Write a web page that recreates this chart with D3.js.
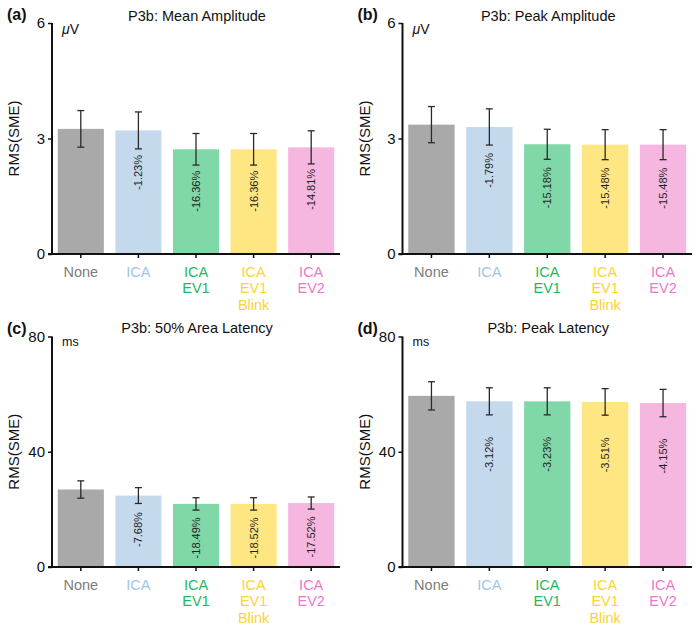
<!DOCTYPE html>
<html>
<head>
<meta charset="utf-8">
<script src="https://cdn.jsdelivr.net/npm/d3@7"></script>
<style>
  html, body { margin: 0; padding: 0; background: #fff; }
  svg { display: block; font-family: "Liberation Sans", Arial, Helvetica, sans-serif; }
</style>
</head>
<body>
<svg id="chart" width="700" height="631"></svg>
<script>
// ---------------- data ----------------
const categories = ["None", "ICA", "ICA EV1", "ICA EV1 Blink", "ICA EV2"];
const categoryLines = [["None"], ["ICA"], ["ICA", "EV1"], ["ICA", "EV1", "Blink"], ["ICA", "EV2"]];

const meanAmpValues = [3.25, 3.21, 2.72, 2.72, 2.77];
const meanAmpErrors = [0.475, 0.48, 0.41, 0.41, 0.43];
const meanAmpPct = ["", "-1.23%", "-16.36%", "-16.36%", "-14.81%"];

const peakAmpValues = [3.36, 3.30, 2.85, 2.84, 2.84];
const peakAmpErrors = [0.47, 0.47, 0.39, 0.39, 0.39];
const peakAmpPct = ["", "-1.79%", "-15.18%", "-15.48%", "-15.48%"];

const areaLatValues = [26.9, 24.8, 21.9, 21.9, 22.2];
const areaLatErrors = [3.0, 2.75, 2.15, 2.15, 2.1];
const areaLatPct = ["", "-7.68%", "-18.49%", "-18.52%", "-17.52%"];

const peakLatValues = [59.4, 57.5, 57.5, 57.3, 56.9];
const peakLatErrors = [4.9, 4.7, 4.7, 4.6, 4.75];
const peakLatPct = ["", "-3.12%", "-3.23%", "-3.51%", "-4.15%"];

const amplitudeTicks = [0, 3, 6];
const latencyTicks = [0, 40, 80];

const panelLetters = ["(a)", "(b)", "(c)", "(d)"];
const panelTitles = ["P3b: Mean Amplitude", "P3b: Peak Amplitude", "P3b: 50% Area Latency", "P3b: Peak Latency"];
const panelUnits = ["μV", "μV", "ms", "ms"];
const yAxisTitle = "RMS(SME)";

// ---------------- styles ----------------
const barColors = ["#a9a9a9", "#c4d9ec", "#80d8a8", "#fee782", "#f5b6df"];
const labelColors = ["#7d7d7d", "#a2c4e6", "#22b95e", "#fcd430", "#ef78cc"];

// ---------------- layout ----------------
const panels = [
  { values: meanAmpValues, errors: meanAmpErrors, pct: meanAmpPct, ticks: amplitudeTicks,
    x0: 52, x1: 340, yTop: 23, yBot: 254, pctOffset: 42, titleDy: -2, unitSize: 14 },
  { values: peakAmpValues, errors: peakAmpErrors, pct: peakAmpPct, ticks: amplitudeTicks,
    x0: 402.5, x1: 692, yTop: 23, yBot: 254, pctOffset: 43.5, titleDy: -2, unitSize: 14 },
  { values: areaLatValues, errors: areaLatErrors, pct: areaLatPct, ticks: latencyTicks,
    x0: 52, x1: 340, yTop: 336.5, yBot: 567, pctOffset: 34, titleDy: -4, unitSize: 12.5 },
  { values: peakLatValues, errors: peakLatErrors, pct: peakLatPct, ticks: latencyTicks,
    x0: 402.5, x1: 692, yTop: 336.5, yBot: 567, pctOffset: 53, titleDy: -4, unitSize: 12.5 }
];

const svg = d3.select("#chart");

panels.forEach((p, pi) => {
  const g = svg.append("g");
  const x = d3.scaleBand().domain(categories).range([p.x0, p.x1]).paddingInner(0.2).paddingOuter(0.1);
  const ymax = d3.max(p.ticks);
  const y = d3.scaleLinear().domain([0, ymax]).range([p.yBot, p.yTop]);

  // bars
  g.selectAll("rect.bar").data(categories).enter().append("rect")
    .attr("x", d => x(d))
    .attr("width", x.bandwidth())
    .attr("y", (d, i) => y(p.values[i]))
    .attr("height", (d, i) => y(0) - y(p.values[i]))
    .attr("fill", (d, i) => barColors[i]);

  // error bars
  const cap = 3.5;
  const eb = g.selectAll("g.err").data(categories).enter().append("g")
    .attr("stroke", "#2a2a2a").attr("stroke-width", 1.3).attr("fill", "none");
  eb.append("line")
    .attr("x1", d => x(d) + x.bandwidth() / 2).attr("x2", d => x(d) + x.bandwidth() / 2)
    .attr("y1", (d, i) => y(p.values[i] + p.errors[i])).attr("y2", (d, i) => y(p.values[i] - p.errors[i]));
  eb.append("line")
    .attr("x1", d => x(d) + x.bandwidth() / 2 - cap).attr("x2", d => x(d) + x.bandwidth() / 2 + cap)
    .attr("y1", (d, i) => y(p.values[i] + p.errors[i])).attr("y2", (d, i) => y(p.values[i] + p.errors[i]));
  eb.append("line")
    .attr("x1", d => x(d) + x.bandwidth() / 2 - cap).attr("x2", d => x(d) + x.bandwidth() / 2 + cap)
    .attr("y1", (d, i) => y(p.values[i] - p.errors[i])).attr("y2", (d, i) => y(p.values[i] - p.errors[i]));

  // percentage labels
  g.selectAll("text.pct").data(categories).enter().append("text")
    .attr("transform", (d, i) => `translate(${x(d) + x.bandwidth() / 2 + 4},${y(p.values[i]) + p.pctOffset}) rotate(-90)`)
    .attr("text-anchor", "middle")
    .attr("font-size", 11)
    .attr("fill", "#1e1e1e")
    .text((d, i) => p.pct[i]);

  // y axis
  const yAxis = d3.axisLeft(y).tickValues(p.ticks).tickSize(4).tickPadding(3).tickFormat(d3.format("d"));
  const ya = g.append("g").attr("transform", `translate(${p.x0},0)`).call(yAxis);
  ya.select(".domain").attr("stroke", "#111").attr("stroke-width", 2)
    .attr("d", `M0,${p.yBot}V${p.yTop}`);
  ya.selectAll(".tick line").attr("stroke", "#111").attr("stroke-width", 1.5);
  ya.selectAll(".tick text").attr("font-size", 15).attr("fill", "#111")
    .attr("font-family", "'Liberation Sans', Arial, sans-serif");

  // x axis
  const xAxis = d3.axisBottom(x).tickSize(4).tickFormat("");
  const xa = g.append("g").attr("transform", `translate(0,${p.yBot})`).call(xAxis);
  xa.select(".domain").attr("stroke", "#111").attr("stroke-width", 2)
    .attr("d", `M${p.x0 - 4},0H${p.x1}`);
  xa.selectAll(".tick line").attr("stroke", "#111").attr("stroke-width", 1.5);

  // multi-line category labels
  categories.forEach((c, i) => {
    const t = g.append("text")
      .attr("text-anchor", "middle")
      .attr("font-size", 14.5)
      .attr("fill", labelColors[i]);
    categoryLines[i].forEach((line, li) => {
      t.append("tspan")
        .attr("x", x(c) + x.bandwidth() / 2)
        .attr("y", p.yBot + 23 + li * 16.3)
        .text(line);
    });
  });

  // title
  g.append("text")
    .attr("x", (p.x0 + p.x1) / 2 + 1)
    .attr("y", p.yTop + p.titleDy)
    .attr("text-anchor", "middle")
    .attr("font-size", 14.5)
    .attr("fill", "#111")
    .text(panelTitles[pi]);

  // panel letter
  g.append("text")
    .attr("x", p.x0 - 45)
    .attr("y", p.yTop - 3)
    .attr("font-size", 16)
    .attr("font-weight", "bold")
    .attr("fill", "#111")
    .text(panelLetters[pi]);

  // unit
  const u = g.append("text")
    .attr("x", p.x0 + 10)
    .attr("y", p.yTop + (pi < 2 ? 11 : 9))
    .attr("font-size", p.unitSize)
    .attr("fill", "#111");
  if (panelUnits[pi] === "μV") {
    u.append("tspan").attr("font-style", "italic").text("μ");
    u.append("tspan").text("V");
  } else {
    u.text(panelUnits[pi]);
  }

  // y axis title
  g.append("text")
    .attr("transform", `translate(${p.x0 - 33},${(p.yTop + p.yBot) / 2}) rotate(-90)`)
    .attr("text-anchor", "middle")
    .attr("font-size", 15)
    .attr("fill", "#111")
    .text(yAxisTitle);
});
</script>
</body>
</html>
